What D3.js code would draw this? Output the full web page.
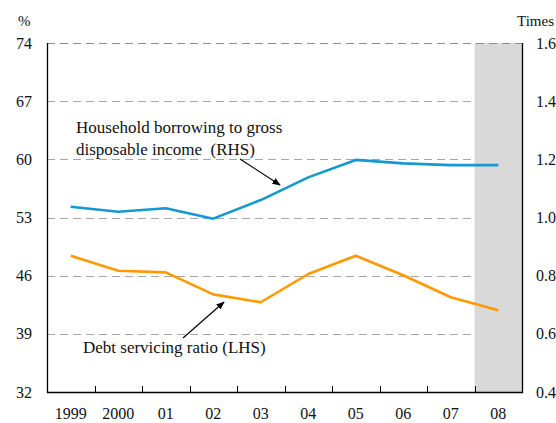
<!DOCTYPE html>
<html>
<head>
<meta charset="utf-8">
<script src="https://cdn.jsdelivr.net/npm/d3@7"></script>
<style>
  html, body { margin: 0; padding: 0; background: #fff; }
  svg { display: block; }
  text { font-family: "Liberation Serif", "DejaVu Serif", serif; fill: #111; }
</style>
</head>
<body>
<svg id="chart" width="556" height="423"></svg>
<script>
const years = ["1999", "2000", "01", "02", "03", "04", "05", "06", "07", "08"];
const borrowingRHS = [1.037, 1.02, 1.032, 0.996, 1.06, 1.138, 1.198, 1.186, 1.18, 1.18];
const debtServicingLHS = [48.4, 46.6, 46.4, 43.75, 42.8, 46.2, 48.4, 46.05, 43.4, 41.85];
const leftTicks = [32, 39, 46, 53, 60, 67, 74];
const rightTicks = [0.4, 0.6, 0.8, 1.0, 1.2, 1.4, 1.6];
const shadedYears = ["08"];

const W = 556, H = 423;
const m = { left: 47, right: 34, top: 43, bottom: 31 };
const svg = d3.select("#chart");
const x0 = m.left, x1 = W - m.right, y0 = H - m.bottom, y1 = m.top;

const x = d3.scaleBand().domain(years).range([x0, x1]).padding(0);
const yL = d3.scaleLinear().domain([32, 74]).range([y0, y1]);
const yR = d3.scaleLinear().domain([0.4, 1.6]).range([y0, y1]);

// shaded region
svg.selectAll("rect.shade").data(shadedYears).enter().append("rect")
  .attr("class", "shade")
  .attr("x", d => x(d)).attr("y", y1)
  .attr("width", x.bandwidth()).attr("height", y0 - y1)
  .attr("fill", "#d9d9d9");

// gridlines
const shadeStart = x(shadedYears[0]);
svg.selectAll("line.grid").data(leftTicks.filter(t => t > 32 && t < 74)).enter().append("line")
  .attr("x1", x0).attr("x2", shadeStart)
  .attr("y1", d => Math.round(yL(d)) + 0.5).attr("y2", d => Math.round(yL(d)) + 0.5)
  .attr("stroke", "#a6a6a6").attr("stroke-width", 1).attr("stroke-dasharray", "8,5");
// top border dashed
svg.append("line")
  .attr("x1", x0).attr("x2", x1)
  .attr("y1", Math.round(yL(74)) + 0.5).attr("y2", Math.round(yL(74)) + 0.5)
  .attr("stroke", "#8c8c8c").attr("stroke-width", 1).attr("stroke-dasharray", "8,5");

// axes lines
svg.append("line").attr("x1", x0 + 0.5).attr("x2", x0 + 0.5).attr("y1", y1).attr("y2", y0 + 1)
  .attr("stroke", "#000").attr("stroke-width", 1.3);
svg.append("line").attr("x1", x1 + 0.5).attr("x2", x1 + 0.5).attr("y1", y1).attr("y2", y0 + 1)
  .attr("stroke", "#000").attr("stroke-width", 1.3);
svg.append("line").attr("x1", x0).attr("x2", x1 + 1).attr("y1", y0 + 0.5).attr("y2", y0 + 0.5)
  .attr("stroke", "#000").attr("stroke-width", 1.3);

// x ticks at band boundaries (inward)
svg.selectAll("line.xt").data(years.slice(1)).enter().append("line")
  .attr("x1", d => Math.round(x(d)) + 0.5).attr("x2", d => Math.round(x(d)) + 0.5)
  .attr("y1", y0).attr("y2", y0 - 6)
  .attr("stroke", "#000").attr("stroke-width", 1);

// x labels
svg.selectAll("text.xl").data(years).enter().append("text")
  .attr("x", d => x(d) + x.bandwidth() / 2).attr("y", 419)
  .attr("text-anchor", "middle").attr("font-size", 16).text(d => d);

// left labels
svg.selectAll("text.yl").data(leftTicks).enter().append("text")
  .attr("x", 32).attr("y", d => yL(d) + 5.5)
  .attr("text-anchor", "end").attr("font-size", 16).text(d => d);
// right labels
svg.selectAll("text.yr").data(rightTicks).enter().append("text")
  .attr("x", 536).attr("y", d => yR(d) + 5.5)
  .attr("text-anchor", "start").attr("font-size", 16).text(d => d3.format(".1f")(d));

// unit labels
svg.append("text").attr("x", 18).attr("y", 26).attr("font-size", 15).text("%");
svg.append("text").attr("x", 517).attr("y", 26).attr("font-size", 15).text("Times");

// lines
const cx = d => x(d) + x.bandwidth() / 2;
const lineR = d3.line().x((d, i) => cx(years[i])).y(d => yR(d));
const lineL = d3.line().x((d, i) => cx(years[i])).y(d => yL(d));
svg.append("path").datum(borrowingRHS).attr("d", lineR)
  .attr("fill", "none").attr("stroke", "#1399d0").attr("stroke-width", 2.6).attr("stroke-linejoin", "round");
svg.append("path").datum(debtServicingLHS).attr("d", lineL)
  .attr("fill", "none").attr("stroke", "#ff9900").attr("stroke-width", 2.6).attr("stroke-linejoin", "round");

// arrow marker
svg.append("defs").append("marker")
  .attr("id", "ah").attr("viewBox", "0 0 10 10").attr("refX", 9).attr("refY", 5)
  .attr("markerWidth", 7).attr("markerHeight", 7).attr("orient", "auto")
  .append("path").attr("d", "M0,1 L10,5 L0,9 Z").attr("fill", "#000");

// annotations
svg.append("text").attr("x", 76).attr("y", 133).attr("font-size", 17).text("Household borrowing to gross");
svg.append("text").attr("x", 76).attr("y", 155).attr("font-size", 17).attr("xml:space", "preserve").text("disposable income  (RHS)");
svg.append("line").attr("x1", 240).attr("y1", 159).attr("x2", 280).attr("y2", 185)
  .attr("stroke", "#000").attr("stroke-width", 1.2).attr("marker-end", "url(#ah)");

svg.append("text").attr("x", 83).attr("y", 353).attr("font-size", 17).text("Debt servicing ratio (LHS)");
svg.append("line").attr("x1", 183).attr("y1", 338).attr("x2", 224).attr("y2", 302)
  .attr("stroke", "#000").attr("stroke-width", 1.2).attr("marker-end", "url(#ah)");
</script>
</body>
</html>
